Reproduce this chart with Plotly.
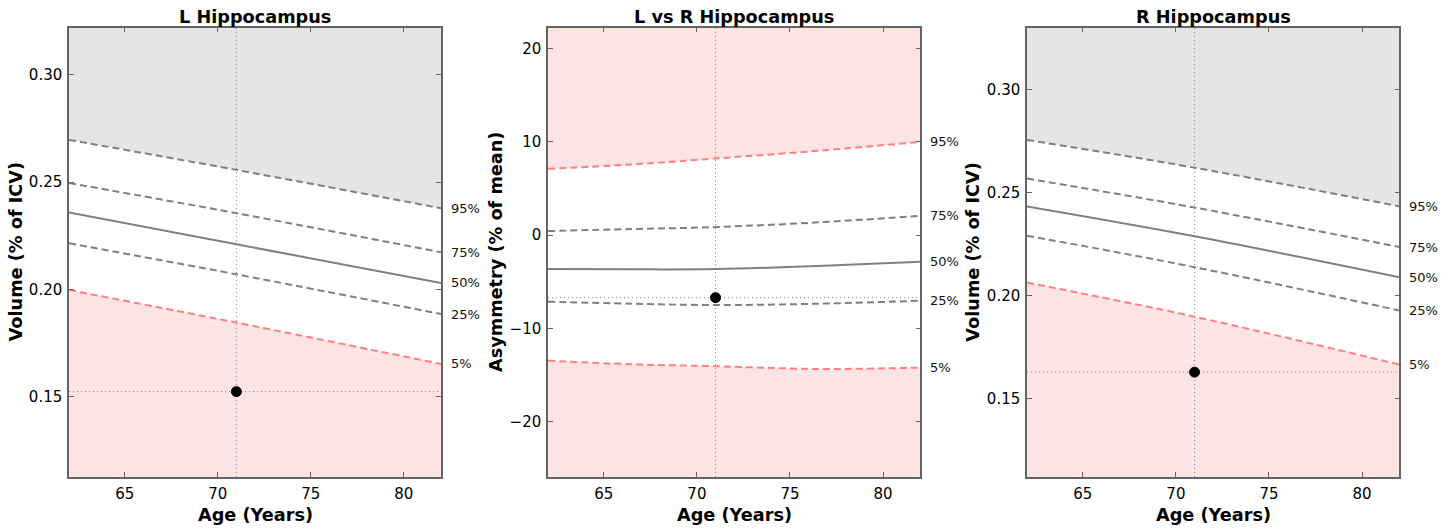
import plotly.graph_objects as go

# ---------------- data ----------------
pct_labels = ["5%", "25%", "50%", "75%", "95%"]

x_range = [62, 82]
x_ticks = [65, 70, 75, 80]

subject_age = 71

# Left hippocampus (% of ICV)
L_ages = [62, 71, 82]
L_p5 = [0.1997, 0.1845, 0.1652]
L_p25 = [0.2215, 0.2070, 0.1885]
L_p50 = [0.2358, 0.2210, 0.2030]
L_p75 = [0.2496, 0.2355, 0.2173]
L_p95 = [0.2697, 0.2557, 0.2378]
L_subject = 0.1523
L_range = [0.1125, 0.322]
L_ticks = [0.15, 0.20, 0.25, 0.30]

# Asymmetry (% of mean)
A_ages = [62, 66.5, 71, 76.5, 82]
A_p5 = [-13.44, -13.83, -14.04, -14.33, -14.19]
A_p25 = [-7.13, -7.35, -7.49, -7.35, -7.03]
A_p50 = [-3.64, -3.67, -3.64, -3.32, -2.86]
A_p75 = [0.43, 0.64, 0.86, 1.36, 2.06]
A_p95 = [7.09, 7.56, 8.20, 9.02, 9.98]
A_subject = -6.7
A_range = [-25.9, 22.2]
A_ticks = [-20, -10, 0, 10, 20]

# Right hippocampus (% of ICV)
R_ages = [62, 71, 82]
R_p5 = [0.2063, 0.1897, 0.1664]
R_p25 = [0.2291, 0.2138, 0.1927]
R_p50 = [0.2433, 0.2288, 0.2089]
R_p75 = [0.2569, 0.2428, 0.2236]
R_p95 = [0.2757, 0.2622, 0.2434]
R_subject = 0.1627
R_range = [0.1117, 0.3303]
R_ticks = [0.15, 0.20, 0.25, 0.30]

titles = ["L Hippocampus", "L vs R Hippocampus", "R Hippocampus"]
y_titles = ["Volume (% of ICV)", "Asymmetry (% of mean)", "Volume (% of ICV)"]
x_title = "Age (Years)"

# ---------------- style ----------------
W, H = 1454, 529
GREY_FILL = "rgb(229,229,229)"
PINK_FILL = "rgb(253,228,228)"
GREY_LINE = "rgb(128,128,128)"
RED_LINE = "rgb(255,128,128)"
FRAME = "rgb(100,100,100)"
FONT = "DejaVu Sans"
BOLD_SIZE = 17.7

# pixel layout of plotting areas
panels_px = [(69, 441), (548, 920.3), (1027, 1399.3)]
top_px, bot_px = 27.7, 477
ytitle_px = [16, 496.7, 973.3]

fig = go.Figure()

panels = [
    dict(ages=L_ages, p=[L_p5, L_p25, L_p50, L_p75, L_p95], subj=L_subject,
         yr=L_range, yt=L_ticks, fmt=".2f", upper_fill=GREY_FILL, upper_line=GREY_LINE),
    dict(ages=A_ages, p=[A_p5, A_p25, A_p50, A_p75, A_p95], subj=A_subject,
         yr=A_range, yt=A_ticks, fmt="d", upper_fill=PINK_FILL, upper_line=RED_LINE),
    dict(ages=R_ages, p=[R_p5, R_p25, R_p50, R_p75, R_p95], subj=R_subject,
         yr=R_range, yt=R_ticks, fmt=".2f", upper_fill=GREY_FILL, upper_line=GREY_LINE),
]

annotations = []
dash = "7px,4px"
dot = "1px,3px"

for i, pn in enumerate(panels):
    sfx = "" if i == 0 else str(i + 1)
    xa, ya = "x" + sfx, "y" + sfx
    ages = pn["ages"]
    n = len(ages)
    yr = pn["yr"]
    p5, p25, p50, p75, p95 = pn["p"]

    # upper band
    fig.add_trace(go.Scatter(x=ages, y=[yr[1]] * n, mode="lines", line=dict(width=0),
                             xaxis=xa, yaxis=ya, hoverinfo="skip", showlegend=False))
    fig.add_trace(go.Scatter(x=ages, y=p95, mode="lines", line=dict(width=0, shape="spline"),
                             fill="tonexty", fillcolor=pn["upper_fill"],
                             xaxis=xa, yaxis=ya, hoverinfo="skip", showlegend=False))
    # lower band
    fig.add_trace(go.Scatter(x=ages, y=[yr[0]] * n, mode="lines", line=dict(width=0),
                             xaxis=xa, yaxis=ya, hoverinfo="skip", showlegend=False))
    fig.add_trace(go.Scatter(x=ages, y=p5, mode="lines", line=dict(width=0, shape="spline"),
                             fill="tonexty", fillcolor=PINK_FILL,
                             xaxis=xa, yaxis=ya, hoverinfo="skip", showlegend=False))

    # dotted crosshair
    fig.add_trace(go.Scatter(x=[subject_age, subject_age], y=yr, mode="lines",
                             line=dict(color=GREY_LINE, width=1, dash=dot),
                             xaxis=xa, yaxis=ya, hoverinfo="skip", showlegend=False))
    fig.add_trace(go.Scatter(x=x_range, y=[pn["subj"], pn["subj"]], mode="lines",
                             line=dict(color=GREY_LINE, width=1, dash=dot),
                             xaxis=xa, yaxis=ya, hoverinfo="skip", showlegend=False))

    # percentile curves
    styles = [
        (p5, RED_LINE, dash),
        (p25, GREY_LINE, dash),
        (p50, GREY_LINE, "solid"),
        (p75, GREY_LINE, dash),
        (p95, pn["upper_line"], dash),
    ]
    for (vals, col, ds), lab in zip(styles, pct_labels):
        fig.add_trace(go.Scatter(x=ages, y=vals, mode="lines",
                                 line=dict(color=col, width=2, dash=ds, shape="spline"),
                                 xaxis=xa, yaxis=ya, showlegend=False))
        annotations.append(dict(x=ages[-1], y=vals[-1], xref=xa, yref=ya, text=lab,
                                showarrow=False, xanchor="left", yanchor="middle", xshift=8,
                                font=dict(family=FONT, size=13, color="#111")))

    # subject point
    fig.add_trace(go.Scatter(x=[subject_age], y=[pn["subj"]], mode="markers",
                             marker=dict(color="black", size=10, line=dict(color="black", width=1)),
                             xaxis=xa, yaxis=ya, showlegend=False))

    x0, x1 = panels_px[i]
    dom_x = [x0 / W, x1 / W]
    dom_y = [(H - bot_px) / H, (H - top_px) / H]
    axis_common = dict(showline=True, linecolor=FRAME, linewidth=1.5, mirror="ticks",
                       ticks="inside", ticklen=5, tickcolor=FRAME, tickwidth=1,
                       showgrid=False, zeroline=False, ticklabelstandoff=2,
                       tickfont=dict(family=FONT, size=15, color="black"))
    fig.layout["xaxis" + sfx] = dict(domain=dom_x, range=x_range, tickvals=x_ticks,
                                     anchor=ya, **axis_common)
    fig.layout["yaxis" + sfx] = dict(domain=dom_y, range=yr, tickvals=pn["yt"],
                                     tickformat=pn["fmt"], anchor=xa, **axis_common)

    cx = (x0 + x1) / 2 / W
    annotations.append(dict(x=cx, y=(H - 17) / H, xref="paper", yref="paper",
                            text="<b>" + titles[i] + "</b>", showarrow=False,
                            xanchor="center", yanchor="middle",
                            font=dict(family=FONT, size=BOLD_SIZE, color="black")))
    annotations.append(dict(x=cx, y=(H - 515) / H, xref="paper", yref="paper",
                            text="<b>" + x_title + "</b>", showarrow=False,
                            xanchor="center", yanchor="middle",
                            font=dict(family=FONT, size=BOLD_SIZE, color="black")))
    annotations.append(dict(x=ytitle_px[i] / W, y=(H - (top_px + bot_px) / 2) / H,
                            xref="paper", yref="paper", textangle=-90,
                            text="<b>" + y_titles[i] + "</b>", showarrow=False,
                            xanchor="center", yanchor="middle",
                            font=dict(family=FONT, size=BOLD_SIZE, color="black")))

fig.update_layout(
    width=W, height=H,
    margin=dict(l=0, r=0, t=0, b=0),
    paper_bgcolor="white", plot_bgcolor="white",
    annotations=annotations,
    showlegend=False,
)

fig.write_html("out.html", config={"displayModeBar": False},
               post_script="document.body.style.margin='0px';")
